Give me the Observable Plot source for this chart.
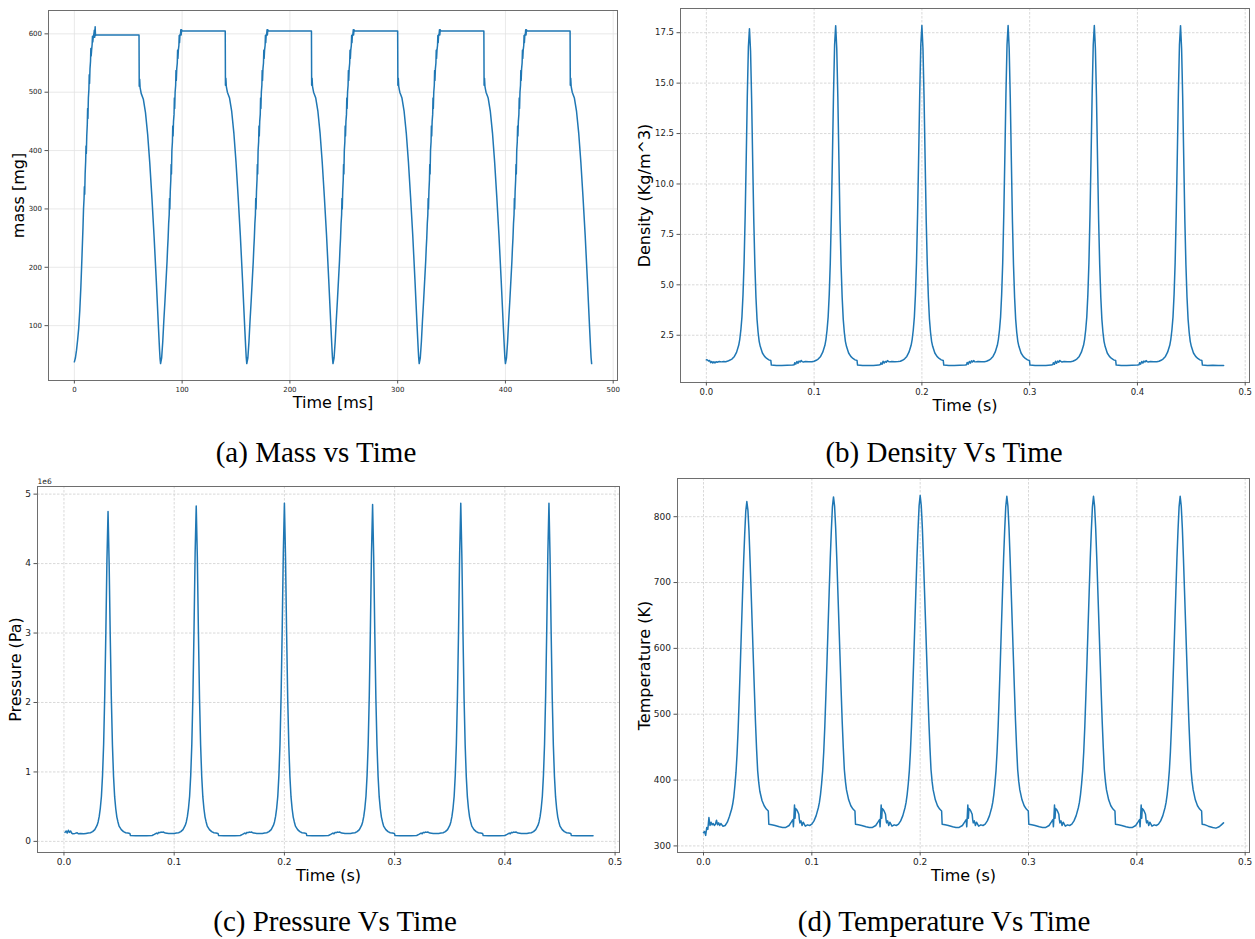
<!DOCTYPE html>
<html><head><meta charset="utf-8">
<script src="https://cdn.jsdelivr.net/npm/d3@7"></script>
<script src="https://cdn.jsdelivr.net/npm/@observablehq/plot@0.6"></script>
<style>
body{margin:0;background:#fff;}
#fig{position:relative;width:1255px;height:939px;overflow:hidden;font-family:"DejaVu Sans",sans-serif;}
.panel{position:absolute;}
.cap{position:absolute;font-family:"Liberation Serif","Times New Roman",serif;font-size:29px;line-height:29px;color:#000;white-space:nowrap;transform:translateX(-50%);}
</style></head><body><div id="fig"></div>
<script>
// ---------- (a) mass [mg] vs time [ms] ----------
const mass = [
[0,38],[1,45],[2,58],[3,75],[4,95],[5,125],[6,165],[7,215],[8,268],[8.5,300],[9,318],[9.3,338],[9.6,325],[10,360],[10.5,382],[10.8,408],[11.1,395],[11.5,425],[12,445],[12.3,472],[12.6,455],[13,490],[13.5,505],[13.8,530],[14.1,515],[14.5,540],[15,553],[15.3,575],[15.6,562],[16,572],[16.5,582],[16.8,596],[17.1,586],[17.5,594],[18,598],[18.5,606],[18.8,594],[19.3,612],[19.6,597],[20,598],[60,598],[60.2,510],[60.6,522],[61,508],[61.5,503],[62,498],[64,488],[66,465],[68,428],[70,378],[72,318],[74,252],[76,178],[77,138],[78,98],[79,60],[79.5,44],[80,35],
[81,45],[82,72],[83,108],[84,140],[85,175],[86,210],[86.5,232],[87,250],[87.5,275],[88,290],[88.3,318],[88.6,300],[89,330],[89.5,350],[89.8,376],[90.1,360],[90.5,400],[91,415],[91.3,442],[91.6,425],[92,450],[92.5,462],[92.8,490],[93.1,472],[93.5,500],[94,512],[94.3,537],[94.6,520],[95,540],[95.5,550],[95.8,572],[96.1,558],[96.5,572],[97,580],[97.3,597],[97.6,585],[98,598],[98.5,600],[98.8,607],[99.1,598],[99.5,607],[100,605],[140,605],[140.2,512],[140.6,524],[141,510],[141.5,505],[142,500],[144,490],[146,467],[148,430],[150,380],[152,320],[154,255],[156,180],[157,140],[158,100],[159,62],[159.5,45],[160,35],
[161,45],[162,72],[163,108],[164,140],[165,175],[166,210],[166.5,232],[167,250],[167.5,275],[168,290],[168.3,318],[168.6,300],[169,330],[169.5,350],[169.8,376],[170.1,360],[170.5,400],[171,415],[171.3,442],[171.6,425],[172,450],[172.5,462],[172.8,490],[173.1,472],[173.5,500],[174,512],[174.3,537],[174.6,520],[175,540],[175.5,550],[175.8,572],[176.1,558],[176.5,572],[177,580],[177.3,597],[177.6,585],[178,598],[178.5,600],[178.8,607],[179.1,598],[179.5,607],[180,605],[220,605],[220.2,512],[220.6,524],[221,510],[221.5,505],[222,500],[224,490],[226,467],[228,430],[230,380],[232,320],[234,255],[236,180],[237,140],[238,100],[239,62],[239.5,45],[240,35],
[241,45],[242,72],[243,108],[244,140],[245,175],[246,210],[246.5,232],[247,250],[247.5,275],[248,290],[248.3,318],[248.6,300],[249,330],[249.5,350],[249.8,376],[250.1,360],[250.5,400],[251,415],[251.3,442],[251.6,425],[252,450],[252.5,462],[252.8,490],[253.1,472],[253.5,500],[254,512],[254.3,537],[254.6,520],[255,540],[255.5,550],[255.8,572],[256.1,558],[256.5,572],[257,580],[257.3,597],[257.6,585],[258,598],[258.5,600],[258.8,607],[259.1,598],[259.5,607],[260,605],[300,605],[300.2,512],[300.6,524],[301,510],[301.5,505],[302,500],[304,490],[306,467],[308,430],[310,380],[312,320],[314,255],[316,180],[317,140],[318,100],[319,62],[319.5,45],[320,35],
[321,45],[322,72],[323,108],[324,140],[325,175],[326,210],[326.5,232],[327,250],[327.5,275],[328,290],[328.3,318],[328.6,300],[329,330],[329.5,350],[329.8,376],[330.1,360],[330.5,400],[331,415],[331.3,442],[331.6,425],[332,450],[332.5,462],[332.8,490],[333.1,472],[333.5,500],[334,512],[334.3,537],[334.6,520],[335,540],[335.5,550],[335.8,572],[336.1,558],[336.5,572],[337,580],[337.3,597],[337.6,585],[338,598],[338.5,600],[338.8,607],[339.1,598],[339.5,607],[340,605],[380,605],[380.2,512],[380.6,524],[381,510],[381.5,505],[382,500],[384,490],[386,467],[388,430],[390,380],[392,320],[394,255],[396,180],[397,140],[398,100],[399,62],[399.5,45],[400,35],
[401,45],[402,72],[403,108],[404,140],[405,175],[406,210],[406.5,232],[407,250],[407.5,275],[408,290],[408.3,318],[408.6,300],[409,330],[409.5,350],[409.8,376],[410.1,360],[410.5,400],[411,415],[411.3,442],[411.6,425],[412,450],[412.5,462],[412.8,490],[413.1,472],[413.5,500],[414,512],[414.3,537],[414.6,520],[415,540],[415.5,550],[415.8,572],[416.1,558],[416.5,572],[417,580],[417.3,597],[417.6,585],[418,598],[418.5,600],[418.8,607],[419.1,598],[419.5,607],[420,605],[460,605],[460.2,512],[460.6,524],[461,510],[461.5,505],[462,500],[464,490],[466,467],[468,430],[470,380],[472,320],[474,255],[476,180],[477,140],[478,100],[479,62],[479.5,45],[480,35]
];
const massXTicks = [0,100,200,300,400,500];
const massYTicks = [100,200,300,400,500,600];

// ---------- (b) density [kg/m^3] vs time [s] ----------
const density = [
[0,1.28],[0.001,1.27],[0.002,1.22],[0.003,1.25],[0.004,1.14],[0.005,1.2],[0.006,1.12],[0.007,1.18],[0.008,1.13],[0.009,1.19],[0.01,1.16],[0.012,1.2],[0.014,1.18],[0.016,1.2],[0.018,1.19],
[0.02,1.22],[0.022,1.27],[0.024,1.33],[0.026,1.45],[0.028,1.65],[0.03,2.0],[0.031,2.3],[0.032,2.75],[0.033,3.4],[0.034,4.5],[0.035,6.1],[0.036,8.4],[0.037,11.3],[0.038,14.4],[0.039,16.8],[0.04,17.7],[0.041,16.6],[0.042,14.2],[0.043,11.1],[0.044,8.2],[0.045,6.0],[0.046,4.4],[0.047,3.3],[0.048,2.65],[0.049,2.2],[0.05,1.95],[0.052,1.62],[0.054,1.45],[0.056,1.35],[0.058,1.28],[0.0598,1.25],[0.0603,1.02],
[0.065,1.0],[0.07,1.0],[0.075,1.01],[0.08,1.02],[0.0815,1.04],[0.082,1.14],[0.083,1.07],[0.084,1.2],[0.085,1.11],[0.086,1.22],[0.087,1.17],[0.088,1.25],[0.089,1.19],[0.09,1.17],[0.092,1.2],[0.095,1.18],[0.098,1.19],
[0.1,1.21],[0.102,1.26],[0.104,1.33],[0.106,1.45],[0.108,1.66],[0.11,2.0],[0.111,2.3],[0.112,2.76],[0.113,3.4],[0.114,4.5],[0.115,6.1],[0.116,8.5],[0.117,11.4],[0.118,14.5],[0.119,16.9],[0.12,17.85],[0.121,16.7],[0.122,14.3],[0.123,11.2],[0.124,8.2],[0.125,6.0],[0.126,4.4],[0.127,3.3],[0.128,2.65],[0.129,2.2],[0.13,1.95],[0.132,1.62],[0.134,1.45],[0.136,1.35],[0.138,1.28],[0.1398,1.25],[0.1403,1.02],
[0.145,1.0],[0.15,1.0],[0.155,1.0],[0.16,1.02],[0.1615,1.05],[0.162,1.13],[0.163,1.06],[0.164,1.21],[0.165,1.12],[0.166,1.2],[0.167,1.16],[0.168,1.24],[0.169,1.2],[0.17,1.18],[0.172,1.2],[0.175,1.19],[0.178,1.2],
[0.18,1.21],[0.182,1.26],[0.184,1.33],[0.186,1.45],[0.188,1.66],[0.19,2.0],[0.191,2.3],[0.192,2.76],[0.193,3.4],[0.194,4.5],[0.195,6.1],[0.196,8.5],[0.197,11.4],[0.198,14.5],[0.199,16.9],[0.2,17.86],[0.201,16.7],[0.202,14.3],[0.203,11.2],[0.204,8.2],[0.205,6.0],[0.206,4.4],[0.207,3.3],[0.208,2.65],[0.209,2.2],[0.21,1.95],[0.212,1.62],[0.214,1.45],[0.216,1.35],[0.218,1.28],[0.2198,1.25],[0.2203,1.02],
[0.225,1.0],[0.23,1.0],[0.235,1.01],[0.24,1.02],[0.2415,1.04],[0.242,1.15],[0.243,1.07],[0.244,1.2],[0.245,1.12],[0.246,1.23],[0.247,1.17],[0.248,1.24],[0.249,1.19],[0.25,1.18],[0.252,1.2],[0.255,1.18],[0.258,1.19],
[0.26,1.21],[0.262,1.26],[0.264,1.33],[0.266,1.45],[0.268,1.66],[0.27,2.0],[0.271,2.3],[0.272,2.76],[0.273,3.4],[0.274,4.5],[0.275,6.1],[0.276,8.5],[0.277,11.4],[0.278,14.5],[0.279,16.9],[0.28,17.86],[0.281,16.7],[0.282,14.3],[0.283,11.2],[0.284,8.2],[0.285,6.0],[0.286,4.4],[0.287,3.3],[0.288,2.65],[0.289,2.2],[0.29,1.95],[0.292,1.62],[0.294,1.45],[0.296,1.35],[0.298,1.28],[0.2998,1.25],[0.3003,1.02],
[0.305,1.0],[0.31,1.0],[0.315,1.0],[0.32,1.02],[0.3215,1.05],[0.322,1.14],[0.323,1.06],[0.324,1.21],[0.325,1.11],[0.326,1.22],[0.327,1.16],[0.328,1.25],[0.329,1.2],[0.33,1.17],[0.332,1.2],[0.335,1.19],[0.338,1.19],
[0.34,1.21],[0.342,1.26],[0.344,1.33],[0.346,1.45],[0.348,1.66],[0.35,2.0],[0.351,2.3],[0.352,2.76],[0.353,3.4],[0.354,4.5],[0.355,6.1],[0.356,8.5],[0.357,11.4],[0.358,14.5],[0.359,16.9],[0.36,17.86],[0.361,16.7],[0.362,14.3],[0.363,11.2],[0.364,8.2],[0.365,6.0],[0.366,4.4],[0.367,3.3],[0.368,2.65],[0.369,2.2],[0.37,1.95],[0.372,1.62],[0.374,1.45],[0.376,1.35],[0.378,1.28],[0.3798,1.25],[0.3803,1.02],
[0.385,1.0],[0.39,1.0],[0.395,1.01],[0.4,1.02],[0.4015,1.04],[0.402,1.14],[0.403,1.07],[0.404,1.2],[0.405,1.12],[0.406,1.22],[0.407,1.17],[0.408,1.24],[0.409,1.19],[0.41,1.17],[0.412,1.2],[0.415,1.18],[0.418,1.19],
[0.42,1.21],[0.422,1.26],[0.424,1.33],[0.426,1.45],[0.428,1.66],[0.43,2.0],[0.431,2.3],[0.432,2.76],[0.433,3.4],[0.434,4.5],[0.435,6.1],[0.436,8.5],[0.437,11.4],[0.438,14.5],[0.439,16.9],[0.44,17.85],[0.441,16.7],[0.442,14.3],[0.443,11.2],[0.444,8.2],[0.445,6.0],[0.446,4.4],[0.447,3.3],[0.448,2.65],[0.449,2.2],[0.45,1.95],[0.452,1.62],[0.454,1.45],[0.456,1.35],[0.458,1.28],[0.4598,1.25],[0.4603,1.02],
[0.465,1.0],[0.47,1.01],[0.475,1.0],[0.48,1.0]
];
const timeTicks = [0,0.1,0.2,0.3,0.4,0.5];
const densityYTicks = [2.5,5,7.5,10,12.5,15,17.5];

// ---------- (c) pressure [x1e6 Pa] vs time [s] ----------
const pressure = [
[0.001,0.13],[0.002,0.15],[0.003,0.12],[0.004,0.16],[0.005,0.13],[0.006,0.15],[0.007,0.12],[0.008,0.11],[0.01,0.115],[0.012,0.125],[0.013,0.11],[0.015,0.115],[0.018,0.11],
[0.02,0.115],[0.022,0.12],[0.024,0.125],[0.026,0.14],[0.028,0.17],[0.03,0.23],[0.031,0.28],[0.032,0.36],[0.033,0.48],[0.034,0.65],[0.035,0.95],[0.036,1.4],[0.037,2.1],[0.038,3.0],[0.039,4.05],[0.04,4.75],[0.041,4.0],[0.042,2.95],[0.043,2.05],[0.044,1.38],[0.045,0.93],[0.046,0.64],[0.047,0.47],[0.048,0.35],[0.049,0.28],[0.05,0.22],[0.052,0.17],[0.054,0.14],[0.056,0.125],[0.058,0.12],[0.0598,0.115],[0.0603,0.085],
[0.065,0.08],[0.07,0.08],[0.075,0.08],[0.08,0.085],[0.082,0.1],[0.084,0.12],[0.085,0.11],[0.086,0.13],[0.087,0.125],[0.088,0.135],[0.089,0.13],[0.09,0.135],[0.092,0.12],[0.095,0.115],[0.098,0.115],
[0.1,0.115],[0.102,0.12],[0.104,0.125],[0.106,0.14],[0.108,0.17],[0.11,0.23],[0.111,0.28],[0.112,0.36],[0.113,0.48],[0.114,0.65],[0.115,0.95],[0.116,1.4],[0.117,2.1],[0.118,3.05],[0.119,4.15],[0.12,4.83],[0.121,4.1],[0.122,3.0],[0.123,2.05],[0.124,1.38],[0.125,0.93],[0.126,0.64],[0.127,0.47],[0.128,0.35],[0.129,0.28],[0.13,0.22],[0.132,0.17],[0.134,0.14],[0.136,0.125],[0.138,0.12],[0.1398,0.115],[0.1403,0.085],
[0.145,0.08],[0.15,0.08],[0.155,0.08],[0.16,0.085],[0.162,0.1],[0.164,0.12],[0.165,0.11],[0.166,0.13],[0.167,0.125],[0.168,0.135],[0.169,0.13],[0.17,0.135],[0.172,0.12],[0.175,0.115],[0.178,0.115],
[0.18,0.115],[0.182,0.12],[0.184,0.125],[0.186,0.14],[0.188,0.17],[0.19,0.23],[0.191,0.28],[0.192,0.36],[0.193,0.48],[0.194,0.65],[0.195,0.95],[0.196,1.4],[0.197,2.1],[0.198,3.05],[0.199,4.15],[0.2,4.87],[0.201,4.1],[0.202,3.0],[0.203,2.05],[0.204,1.38],[0.205,0.93],[0.206,0.64],[0.207,0.47],[0.208,0.35],[0.209,0.28],[0.21,0.22],[0.212,0.17],[0.214,0.14],[0.216,0.125],[0.218,0.12],[0.2198,0.115],[0.2203,0.085],
[0.225,0.08],[0.23,0.08],[0.235,0.08],[0.24,0.085],[0.242,0.1],[0.244,0.12],[0.245,0.11],[0.246,0.13],[0.247,0.125],[0.248,0.135],[0.249,0.13],[0.25,0.135],[0.252,0.12],[0.255,0.115],[0.258,0.115],
[0.26,0.115],[0.262,0.12],[0.264,0.125],[0.266,0.14],[0.268,0.17],[0.27,0.23],[0.271,0.28],[0.272,0.36],[0.273,0.48],[0.274,0.65],[0.275,0.95],[0.276,1.4],[0.277,2.1],[0.278,3.05],[0.279,4.15],[0.28,4.85],[0.281,4.1],[0.282,3.0],[0.283,2.05],[0.284,1.38],[0.285,0.93],[0.286,0.64],[0.287,0.47],[0.288,0.35],[0.289,0.28],[0.29,0.22],[0.292,0.17],[0.294,0.14],[0.296,0.125],[0.298,0.12],[0.2998,0.115],[0.3003,0.085],
[0.305,0.08],[0.31,0.08],[0.315,0.08],[0.32,0.085],[0.322,0.1],[0.324,0.12],[0.325,0.11],[0.326,0.13],[0.327,0.125],[0.328,0.135],[0.329,0.13],[0.33,0.135],[0.332,0.12],[0.335,0.115],[0.338,0.115],
[0.34,0.115],[0.342,0.12],[0.344,0.125],[0.346,0.14],[0.348,0.17],[0.35,0.23],[0.351,0.28],[0.352,0.36],[0.353,0.48],[0.354,0.65],[0.355,0.95],[0.356,1.4],[0.357,2.1],[0.358,3.05],[0.359,4.15],[0.36,4.87],[0.361,4.1],[0.362,3.0],[0.363,2.05],[0.364,1.38],[0.365,0.93],[0.366,0.64],[0.367,0.47],[0.368,0.35],[0.369,0.28],[0.37,0.22],[0.372,0.17],[0.374,0.14],[0.376,0.125],[0.378,0.12],[0.3798,0.115],[0.3803,0.085],
[0.385,0.08],[0.39,0.08],[0.395,0.08],[0.4,0.085],[0.402,0.1],[0.404,0.12],[0.405,0.11],[0.406,0.13],[0.407,0.125],[0.408,0.135],[0.409,0.13],[0.41,0.135],[0.412,0.12],[0.415,0.115],[0.418,0.115],
[0.42,0.115],[0.422,0.12],[0.424,0.125],[0.426,0.14],[0.428,0.17],[0.43,0.23],[0.431,0.28],[0.432,0.36],[0.433,0.48],[0.434,0.65],[0.435,0.95],[0.436,1.4],[0.437,2.1],[0.438,3.05],[0.439,4.15],[0.44,4.87],[0.441,4.1],[0.442,3.0],[0.443,2.05],[0.444,1.38],[0.445,0.93],[0.446,0.64],[0.447,0.47],[0.448,0.35],[0.449,0.28],[0.45,0.22],[0.452,0.17],[0.454,0.14],[0.456,0.125],[0.458,0.12],[0.4598,0.115],[0.4603,0.085],
[0.465,0.08],[0.47,0.08],[0.475,0.08],[0.48,0.08]
];
const pressureYTicks = [0,1,2,3,4,5];

// ---------- (d) temperature [K] vs time [s] ----------
const temperature = [
[0,320],[0.001,322],[0.002,316],[0.003,328],[0.004,325],[0.005,343],[0.006,331],[0.007,336],[0.008,332],[0.009,334],[0.01,331],[0.011,333],[0.012,339],[0.013,332],[0.014,335],[0.015,331],[0.016,334],[0.018,330],
[0.02,331],[0.022,336],[0.024,345],[0.026,356],[0.027,364],[0.028,375],[0.029,392],[0.03,412],[0.031,440],[0.032,478],[0.033,525],[0.034,575],[0.035,628],[0.036,680],[0.037,730],[0.038,772],[0.039,808],[0.04,823],[0.041,810],[0.042,778],[0.043,733],[0.044,684],[0.045,634],[0.046,584],[0.047,535],[0.048,487],[0.049,447],[0.05,414],[0.051,396],[0.052,383],[0.054,369],[0.056,361],[0.058,356],[0.0598,353],[0.0603,333],
[0.063,332],[0.066,331],[0.07,329],[0.073,328],[0.076,328],[0.079,331],[0.081,336],[0.0825,340],[0.083,329],[0.0835,345],[0.084,362],[0.0845,342],[0.085,357],[0.086,355],[0.087,352],[0.088,348],[0.0885,340],[0.089,335],[0.09,338],[0.091,331],[0.092,336],[0.093,333],[0.094,330],[0.096,332],[0.098,331],
[0.1,333],[0.102,338],[0.104,346],[0.106,358],[0.107,366],[0.108,378],[0.109,394],[0.11,414],[0.111,443],[0.112,482],[0.113,530],[0.114,580],[0.115,633],[0.116,685],[0.117,736],[0.118,779],[0.119,815],[0.12,830],[0.121,816],[0.122,783],[0.123,738],[0.124,688],[0.125,638],[0.126,588],[0.127,538],[0.128,490],[0.129,450],[0.13,416],[0.131,398],[0.132,385],[0.134,370],[0.136,361],[0.138,356],[0.1398,353],[0.1403,333],
[0.143,332],[0.146,331],[0.15,329],[0.153,328],[0.156,328],[0.159,331],[0.161,336],[0.1625,340],[0.163,329],[0.1635,345],[0.164,362],[0.1645,342],[0.165,357],[0.166,355],[0.167,352],[0.168,348],[0.1685,340],[0.169,335],[0.17,338],[0.171,331],[0.172,336],[0.173,333],[0.174,330],[0.176,332],[0.178,331],
[0.18,333],[0.182,338],[0.184,346],[0.186,358],[0.187,366],[0.188,378],[0.189,394],[0.19,414],[0.191,443],[0.192,482],[0.193,530],[0.194,580],[0.195,633],[0.196,685],[0.197,736],[0.198,779],[0.199,816],[0.2,832],[0.201,817],[0.202,784],[0.203,738],[0.204,688],[0.205,638],[0.206,588],[0.207,538],[0.208,490],[0.209,450],[0.21,416],[0.211,398],[0.212,385],[0.214,370],[0.216,361],[0.218,356],[0.2198,353],[0.2203,333],
[0.223,332],[0.226,331],[0.23,329],[0.233,328],[0.236,328],[0.239,331],[0.241,336],[0.2425,340],[0.243,329],[0.2435,345],[0.244,362],[0.2445,342],[0.245,357],[0.246,355],[0.247,352],[0.248,348],[0.2485,340],[0.249,335],[0.25,338],[0.251,331],[0.252,336],[0.253,333],[0.254,330],[0.256,332],[0.258,331],
[0.26,333],[0.262,338],[0.264,346],[0.266,358],[0.267,366],[0.268,378],[0.269,394],[0.27,414],[0.271,443],[0.272,482],[0.273,530],[0.274,580],[0.275,633],[0.276,685],[0.277,736],[0.278,779],[0.279,815],[0.28,831],[0.281,816],[0.282,783],[0.283,738],[0.284,688],[0.285,638],[0.286,588],[0.287,538],[0.288,490],[0.289,450],[0.29,416],[0.291,398],[0.292,385],[0.294,370],[0.296,361],[0.298,356],[0.2998,353],[0.3003,333],
[0.303,332],[0.306,331],[0.31,329],[0.313,328],[0.316,328],[0.319,331],[0.321,336],[0.3225,340],[0.323,329],[0.3235,345],[0.324,362],[0.3245,342],[0.325,357],[0.326,355],[0.327,352],[0.328,348],[0.3285,340],[0.329,335],[0.33,338],[0.331,331],[0.332,336],[0.333,333],[0.334,330],[0.336,332],[0.338,331],
[0.34,333],[0.342,338],[0.344,346],[0.346,358],[0.347,366],[0.348,378],[0.349,394],[0.35,414],[0.351,443],[0.352,482],[0.353,530],[0.354,580],[0.355,633],[0.356,685],[0.357,736],[0.358,779],[0.359,815],[0.36,831],[0.361,816],[0.362,783],[0.363,738],[0.364,688],[0.365,638],[0.366,588],[0.367,538],[0.368,490],[0.369,450],[0.37,416],[0.371,398],[0.372,385],[0.374,370],[0.376,361],[0.378,356],[0.3798,353],[0.3803,333],
[0.383,332],[0.386,331],[0.39,329],[0.393,328],[0.396,328],[0.399,331],[0.401,336],[0.4025,340],[0.403,329],[0.4035,345],[0.404,362],[0.4045,342],[0.405,357],[0.406,355],[0.407,352],[0.408,348],[0.4085,340],[0.409,335],[0.41,338],[0.411,331],[0.412,336],[0.413,333],[0.414,330],[0.416,332],[0.418,331],
[0.42,333],[0.422,338],[0.424,346],[0.426,358],[0.427,366],[0.428,378],[0.429,394],[0.43,414],[0.431,443],[0.432,482],[0.433,530],[0.434,580],[0.435,633],[0.436,685],[0.437,736],[0.438,779],[0.439,815],[0.44,831],[0.441,816],[0.442,783],[0.443,738],[0.444,688],[0.445,638],[0.446,588],[0.447,538],[0.448,490],[0.449,450],[0.45,416],[0.451,398],[0.452,385],[0.454,370],[0.456,361],[0.458,356],[0.4598,353],[0.4603,333],
[0.463,332],[0.466,330],[0.47,328],[0.473,327],[0.476,329],[0.478,332],[0.48,335]
];
const temperatureYTicks = [300,400,500,600,700,800];

// ---------- drawing ----------
const BLUE = "#1f77b4";
const f1 = d3.format(".1f");
const fig = document.getElementById("fig");

function panel(o) {
  const gridOpts = {stroke: o.gridColor, strokeOpacity: 1, strokeWidth: 0.8, strokeDasharray: o.dash};
  const svg = Plot.plot({
    width: o.width, height: o.height,
    marginLeft: o.ml, marginRight: o.mr, marginTop: o.mt, marginBottom: o.mb,
    x: {domain: o.xDomain},
    y: {domain: o.yDomain},
    style: {fontFamily: "DejaVu Sans", background: "transparent", overflow: "visible"},
    marks: [
      Plot.gridX(o.xTicks, gridOpts),
      Plot.gridY(o.yTicks, gridOpts),
      Plot.line(o.data, {x: d => d[0], y: d => d[1], stroke: BLUE, strokeWidth: 1.5}),
      Plot.frame({stroke: "#6e6e6e", strokeWidth: 1}),
      Plot.axisX(o.xTicks, {tickFormat: o.xFmt, tickSize: 3.5, tickPadding: 3, fontSize: o.fs, stroke: "#555", fill: "#222", label: null}),
      Plot.axisY(o.yTicks, {tickFormat: o.yFmt, tickSize: 3.5, tickPadding: 3, fontSize: o.fs, stroke: "#555", fill: "#222", label: null}),
      Plot.text([o.xLabel], {text: d => d, frameAnchor: "bottom", textAnchor: "middle", lineAnchor: "middle", dy: o.xLabelDy, fontSize: 16, fill: "#000"}),
      Plot.text([o.yLabel], {text: d => d, frameAnchor: "left", textAnchor: "middle", lineAnchor: "middle", rotate: -90, dx: o.yLabelDx, fontSize: 16, fill: "#000"}),
      ...(o.extra || [])
    ]
  });
  const wrap = document.createElement("div");
  wrap.className = "panel";
  wrap.style.left = o.left + "px";
  wrap.style.top = o.top + "px";
  wrap.appendChild(svg);
  fig.appendChild(wrap);
}

function caption(text, cx, top) {
  const d = document.createElement("div");
  d.className = "cap";
  d.style.left = cx + "px";
  d.style.top = top + "px";
  d.textContent = text;
  fig.appendChild(d);
}

panel({data: mass, left: 0, top: 0, width: 625, height: 420, ml: 48, mr: 8, mt: 10, mb: 40,
  xDomain: [-24, 504], yDomain: [6, 640], xTicks: massXTicks, yTicks: massYTicks,
  xFmt: d3.format("d"), yFmt: d3.format("d"), fs: 7,
  gridColor: "#e3e3e3", dash: null,
  xLabel: "Time [ms]", xLabelDy: 22, yLabel: "mass [mg]", yLabelDx: -30});

panel({data: density, left: 625, top: 0, width: 630, height: 420, ml: 55, mr: 6, mt: 8, mb: 38,
  xDomain: [-0.024, 0.504], yDomain: [0.157, 18.70], xTicks: timeTicks, yTicks: densityYTicks,
  xFmt: f1, yFmt: f1, fs: 8.5,
  gridColor: "#cfcfcf", dash: "2.5,1.5",
  xLabel: "Time (s)", xLabelDy: 23, yLabel: "Density (Kg/m^3)", yLabelDx: -36});

panel({data: pressure, left: 0, top: 470, width: 625, height: 420, ml: 37, mr: 6, mt: 16, mb: 38,
  xDomain: [-0.024, 0.504], yDomain: [-0.16, 5.11], xTicks: timeTicks, yTicks: pressureYTicks,
  xFmt: f1, yFmt: d3.format("d"), fs: 9,
  gridColor: "#cfcfcf", dash: "2.5,1.5",
  xLabel: "Time (s)", xLabelDy: 23, yLabel: "Pressure (Pa)", yLabelDx: -22,
  extra: [Plot.text(["1e6"], {text: d => d, frameAnchor: "top-left", textAnchor: "start", lineAnchor: "middle", dy: -5, fontSize: 7.5, fill: "#222"})]});

panel({data: temperature, left: 625, top: 470, width: 630, height: 420, ml: 52, mr: 6, mt: 8, mb: 38,
  xDomain: [-0.024, 0.504], yDomain: [290, 858], xTicks: timeTicks, yTicks: temperatureYTicks,
  xFmt: f1, yFmt: d3.format("d"), fs: 9,
  gridColor: "#cfcfcf", dash: "2.5,1.5",
  xLabel: "Time (s)", xLabelDy: 23, yLabel: "Temperature (K)", yLabelDx: -33});

caption("(a) Mass vs Time", 316, 438);
caption("(b) Density Vs Time", 944, 438);
caption("(c) Pressure Vs Time", 335, 907);
caption("(d) Temperature Vs Time", 944, 907);
</script>
</body></html>
